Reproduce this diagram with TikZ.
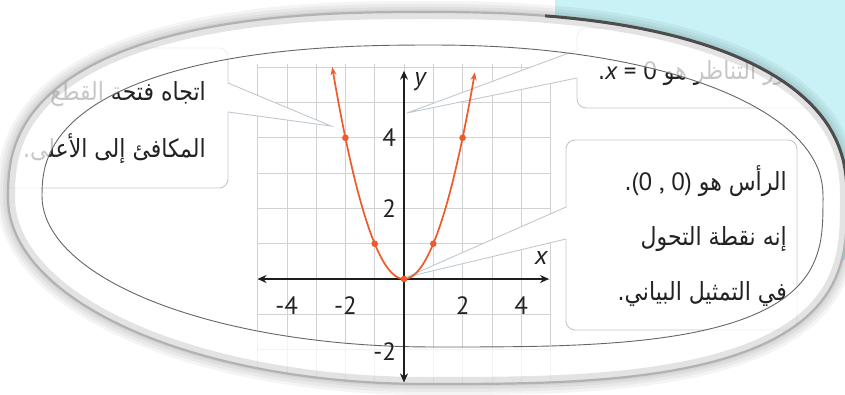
\documentclass[tikz,border=0pt]{standalone}
\usepackage{fontspec}
\setmainfont{PT Sans}
\newfontfamily\arabicfont[Script=Arabic, FakeStretch=0.88]{DejaVu Sans}
\newfontfamily\numfont{PT Sans}
\TeXXeTstate=1
\usetikzlibrary{arrows.meta}
\definecolor{parab}{HTML}{F0592A}
\definecolor{gridc}{HTML}{D2D2D2}
\definecolor{boxc}{HTML}{C0C9D2}
\definecolor{cyanbg}{HTML}{C8F2F6}
\definecolor{greenbg}{HTML}{EAF5D9}
\definecolor{axisc}{HTML}{1E1E1E}
\definecolor{txt}{HTML}{222222}
\tikzset{
  gridline/.style={draw=gridc, line width=0.6pt},
  callout/.style={draw=boxc, fill=white, line width=0.9pt, rounded corners=9pt},
  wedgefill/.style={fill=white},
  wedgeline/.style={draw=boxc, line width=0.9pt},
  atext/.style={font=\arabicfont\fontsize{25}{28}\selectfont, text=txt, inner sep=0pt},
  ticklab/.style={font=\numfont\fontsize{25}{28}\selectfont, text=txt, inner sep=0pt},
  axlab/.style={font=\numfont\itshape\fontsize{26}{28}\selectfont, text=txt, inner sep=0pt},
  axisline/.style={draw=axisc, line width=1.6pt, {Stealth[length=9pt,width=8pt]}-{Stealth[length=9pt,width=8pt]}},
  curve/.style={draw=parab, line width=1.7pt, {Stealth[length=8pt,width=6pt]}-{Stealth[length=8pt,width=6pt]}},
  dot/.style={fill=parab},
  graphaxes/.style={shift={(404,279)}, x=29.3pt, y=35.3pt},
}
% lens outlines: four superelliptic quarters
\def\outerplot{plot[domain=0.1:89.9,samples=45] ({425+422*cos(\x)^0.833},{198-186*sin(\x)^0.833})
 -- plot[domain=90.1:179.9,samples=45] ({425-417*(-cos(\x))^0.8},{198-186*sin(\x)^0.8})
 -- plot[domain=180.1:269.9,samples=45] ({425+417*cos(\x)},{198-186*sin(\x)})
 -- plot[domain=270.1:359.9,samples=45] ({425+422*cos(\x)^0.667},{198+186*(-sin(\x))^0.667}) -- cycle}
\def\innerplot{plot[domain=0.1:89.9,samples=45] ({432+391*cos(\x)^0.952},{196-151*sin(\x)^0.952})
 -- plot[domain=90.1:179.9,samples=45] ({432-390*(-cos(\x))^0.833},{196-151*sin(\x)^0.833})
 -- plot[domain=180.1:269.9,samples=45] ({432+390*cos(\x)},{196-151*sin(\x)})
 -- plot[domain=270.1:359.9,samples=45] ({432+391*cos(\x)^0.625},{196+151*(-sin(\x))^0.625}) -- cycle}
\begin{document}
\begin{tikzpicture}[x=1pt,y=-1pt]
\useasboundingbox (0,0) rectangle (845,395);
% background outside the lens
\fill[white] (0,0) rectangle (845,395);
\shade[left color=white, middle color=greenbg, right color=white] (40,0) rectangle (560,55);
\fill[cyanbg] (555,0) rectangle (845,260);
% soft shadow around the lens
\foreach \w in {22,16,10,5}
  \draw[black, opacity=0.045, line width=\w pt] \outerplot;
\fill[white] \outerplot;
\begin{scope}
  \clip \outerplot;
  % graph grid
  \begin{scope}[graphaxes]
    \foreach \i in {-5,...,5} \draw[gridline] (\i,-3.2) -- (\i,6.1);
    \foreach \j in {-3,...,6} \draw[gridline] (-5,\j) -- (5,\j);
  \end{scope}
  % callout boxes with pointers
  \draw[callout] (-30,48) rectangle (228,188);
  \coordinate (m1a) at (228,83); \coordinate (m1b) at (228,112); \coordinate (p1) at (331,126);
  \fill[wedgefill] ([xshift=-2pt]m1a) -- (p1) -- ([xshift=-2pt]m1b) -- cycle;
  \draw[wedgeline] (m1a) -- (p1) -- (m1b);
  \draw[callout] (577,28) rectangle (900,108);
  \coordinate (m2a) at (577,50); \coordinate (m2b) at (577,78); \coordinate (p2) at (407,113);
  \fill[wedgefill] ([xshift=2pt]m2a) -- (p2) -- ([xshift=2pt]m2b) -- cycle;
  \draw[wedgeline] (m2a) -- (p2) -- (m2b);
  \draw[callout] (566,140) rectangle (797,330);
  \coordinate (m3a) at (566,207); \coordinate (m3b) at (566,239); \coordinate (p3) at (407,277);
  \fill[wedgefill] ([xshift=2pt]m3a) -- (p3) -- ([xshift=2pt]m3b) -- cycle;
  \draw[wedgeline] (m3a) -- (p3) -- (m3b);
  % callout texts
  \node[atext, anchor=base east] (t1a) at (206,101) {\beginR اتجاه فتحة القطع\endR};
  \node[atext, anchor=base east] (t1b) at (206,158) {\beginR المكافئ إلى الأعلى.\endR};
  \node[atext, anchor=base west] (t2) at (598,80) {\beginR محور التناظر هو \beginL{\numfont\itshape x}{\numfont\ = 0}\endL.\endR};
  \node[atext, anchor=base east] (t3a) at (787,191) {\beginR الرأس هو \beginL{\numfont(0 , 0)}\endL.\endR};
  \node[atext, anchor=base east] (t3b) at (787,246) {\beginR إنه نقطة التحول\endR};
  \node[atext, anchor=base east] (t3c) at (787,300) {\beginR في التمثيل البياني.\endR};
\end{scope}
% the lens rim: translucent white band between the two outlines
\fill[white, opacity=0.75, even odd rule] \outerplot \innerplot;
\begin{scope}
  \clip \outerplot;
  \draw[gray, opacity=0.22, line width=14pt] \outerplot;
\end{scope}
\draw[gray!60, line width=2.2pt] \outerplot;
\begin{scope}
  \clip (545,0) rectangle (845,215);
  \draw[black!70, line width=3pt] \outerplot;
\end{scope}
\draw[black!60, line width=0.9pt] \innerplot;
% axes, curve and labels (on top)
\begin{scope}
  \clip \outerplot;
  \begin{scope}[graphaxes]
    \coordinate (xl) at (-5,0); \coordinate (xr) at (4.95,0);
    \coordinate (yb) at (0,-2.93); \coordinate (yt) at (0,5.9);
    \draw[axisline] (xl) -- (xr);
    \draw[axisline] (yb) -- (yt);
    \draw[curve] plot[domain=-2.45:2.42, samples=80] (\x,{\x*\x});
    \foreach \k in {-2,-1,0,1,2} \fill[dot] (\k,{\k*\k}) circle (3.3pt);
    \node[ticklab] (tm4) at (-4,-0.75) {-4};
    \node[ticklab] (tm2) at (-2,-0.75) {-2};
    \node[ticklab] (tp2) at (2,-0.75) {2};
    \node[ticklab] (tp4) at (4,-0.75) {4};
    \node[ticklab] (ty4) at (-0.51,4) {4};
    \node[ticklab] (ty2) at (-0.51,2) {2};
    \node[ticklab] (tym2) at (-0.66,-2.07) {-2};
    \node[axlab] (xlab) at (4.68,0.59) {x};
    \node[axlab] (ylab) at (0.55,5.6) {y};
  \end{scope}
\end{scope}
\end{tikzpicture}
\end{document}
